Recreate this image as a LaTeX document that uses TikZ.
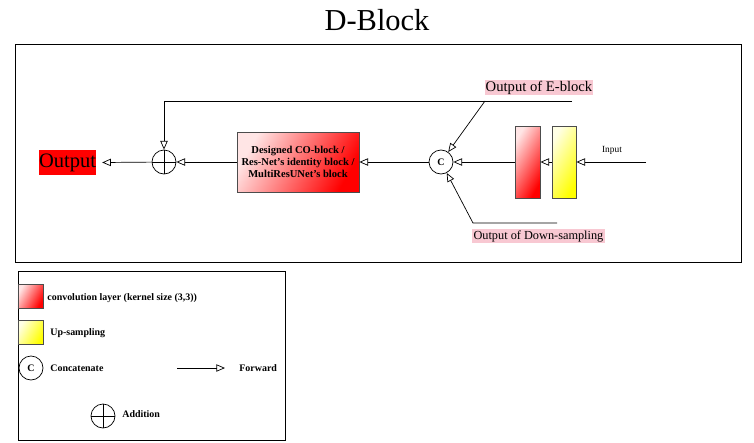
\documentclass[tikz,border=0pt]{standalone}
\usepackage{fontspec}
\setmainfont{Liberation Serif}
\usetikzlibrary{arrows.meta}

\definecolor{labelpink}{RGB}{248,200,210}

\tikzset{
  fwd/.style={-{Triangle[open,length=2.6mm,width=2.2mm]}},
  frame/.style={draw,line width=0.6pt},
  convbox/.style={draw=black!70,line width=0.6pt,left color=red!10,right color=red,shading angle=60,minimum width=0.75cm,minimum height=2.16cm},
  upbox/.style={draw=black!70,line width=0.6pt,left color=yellow!10,right color=yellow,shading angle=60,minimum width=0.72cm,minimum height=2.16cm},
  concat/.style={circle,draw,line width=0.6pt,fill=white,minimum size=0.72cm,inner sep=0pt,font=\fontsize{8.5}{9}\selectfont\bfseries},
  addsym/.style={circle,draw,line width=0.6pt,minimum size=0.72cm,inner sep=0pt,
    path picture={\draw[line width=0.6pt] (path picture bounding box.north) -- (path picture bounding box.south)
      (path picture bounding box.west) -- (path picture bounding box.east);}},
  tag/.style={fill=labelpink,inner sep=1pt,font=\fontsize{10.5}{12}\selectfont},
  legtext/.style={anchor=west,inner sep=0pt,font=\fontsize{8.5}{9}\selectfont\bfseries},
}

\begin{document}
\begin{tikzpicture}[x=0.03cm,y=-0.03cm,line width=0.6pt]
  \useasboundingbox (0,0) rectangle (754,442);

  \node (title) at (377,20) {\fontsize{26}{28}\selectfont D-Block};
  \draw[frame] (15,44) rectangle (741,262);

  % main path
  \node[fill=red,minimum width=1.65cm,minimum height=0.75cm,inner sep=0pt,font=\fontsize{17.5}{18}\selectfont] (out) at (67.5,162.5) {Output};
  \node[addsym] (add) at (164,162) {};
  \node[draw=black!70,line width=0.6pt,left color=red!10,right color=red,shading angle=60,
        minimum width=3.66cm,minimum height=1.8cm,align=center,
        font=\fontsize{9}{10}\selectfont\bfseries] (coblock) at (298,162)
        {Designed CO-block /\\Res-Net's identity block /\\MultiResUNet's block};
  \node[concat] (cat) at (441,162) {C};
  \node[convbox] (conv) at (527.5,162) {};
  \node[upbox] (up) at (564,162) {};
  \coordinate (in) at (646,162);
  \node[font=\fontsize{8}{9}\selectfont] (inlabel) at (612,150) {Input};

  \draw[fwd] (in) -- (up);
  \draw[fwd] (up) -- (conv);
  \draw[fwd] (conv) -- (cat);
  \draw[fwd] (cat) -- (coblock);
  \draw[fwd] (coblock) -- (add);
  \draw[fwd] (add) -- ([xshift=5]out.east);

  % skip inputs
  \coordinate (eEnd) at (572,101);
  \coordinate (eKnee) at (485,101);
  \node[tag,font=\fontsize{12.5}{13}\selectfont] (elabel) at (539,87.5) {Output of E-block};
  \draw[fwd] (eEnd) -| (add);
  \draw[fwd] (eKnee) -- (cat);

  \coordinate (dEnd) at (557,223);
  \coordinate (dKnee) at (473,223);
  \node[tag,anchor=north west] (dlabel) at (472,229) {Output of Down-sampling};
  \draw[fwd] (dEnd) -- (dKnee) -- (cat);

  % legend
  \draw[frame] (18,271) rectangle (285,440);
  \node[draw=black!70,line width=0.6pt,left color=red!10,right color=red,shading angle=60,minimum width=0.75cm,minimum height=0.72cm] (legconv) at (30.5,296) {};
  \node[legtext] (legconvtext) at (47,298) {convolution layer (kernel size (3,3))};
  \node[draw=black!70,line width=0.6pt,left color=yellow!10,right color=yellow,shading angle=60,minimum width=0.75cm,minimum height=0.72cm] (legup) at (30.5,332) {};
  \node[legtext] (leguptext) at (50,333) {Up-sampling};
  \node[concat] (legcat) at (31,368) {C};
  \node[legtext] (legcattext) at (50,368) {Concatenate};
  \coordinate (fwdA) at (177,368);
  \coordinate (fwdB) at (225,368);
  \draw[fwd] (fwdA) -- (fwdB);
  \node[legtext] (legfwdtext) at (239,368) {Forward};
  \node[addsym] (legadd) at (103,416) {};
  \node[legtext] (legaddtext) at (122,414) {Addition};
\end{tikzpicture}
\end{document}
